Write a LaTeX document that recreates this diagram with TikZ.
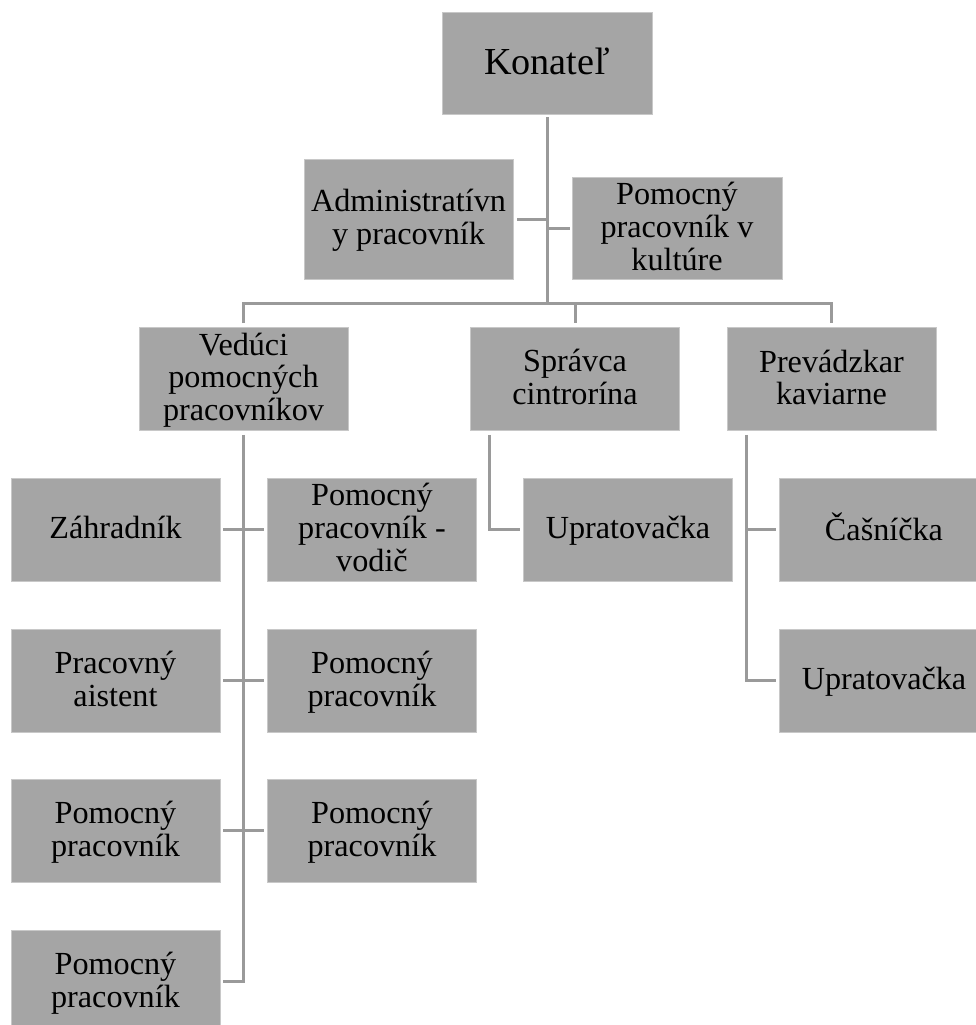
\documentclass[tikz,border=0pt]{standalone}
\usepackage{fontspec}
\setmainfont{Liberation Serif}
\definecolor{boxgray}{HTML}{A5A5A5}
\definecolor{linegray}{HTML}{9A9A9A}
\definecolor{edgegray}{HTML}{C8C8C8}
\newcommand{\kstrut}{\rule[-0.2em]{0pt}{0.98em}}
\tikzset{
  orgbox/.style={rectangle, fill=boxgray, draw=edgegray, line width=0.8pt,
    inner sep=0pt, align=center, text=black,
    font=\fontsize{32.2}{31.5}\selectfont},
  stdbox/.style={orgbox, minimum width=209pt, minimum height=103pt},
  conn/.style={draw=linegray, line width=3pt},
}
\begin{document}
\begin{tikzpicture}[x=1pt,y=-1pt]
\useasboundingbox (0,0) rectangle (976,1025);

% top
\node[orgbox, minimum width=210pt, minimum height=102pt,
      font=\fontsize{38.2}{40}\selectfont] (kon) at (547,63) {\kstrut Konateľ};
\node[orgbox, minimum width=209pt, minimum height=120pt] (adm) at (408.5,219) {\kstrut Administratívn\\\kstrut y pracovník};
\node[orgbox, minimum width=210pt, minimum height=102pt] (kul) at (677,228) {\kstrut Pomocný\\\kstrut pracovník v\\\kstrut kultúre};

% second level
\node[stdbox] (ved) at (243.5,379) {\kstrut Vedúci\\\kstrut pomocných\\\kstrut pracovníkov};
\node[stdbox] (spr) at (575,379) {\kstrut Správca\\\kstrut cintrorína};
\node[stdbox] (pre) at (831.5,379) {\kstrut Prevádzkar\\\kstrut kaviarne};

% Vedúci children
\node[stdbox] (l1) at (115.5,529.5) {\kstrut Záhradník};
\node[stdbox] (l2) at (115.5,680.5) {\kstrut Pracovný\\\kstrut aistent};
\node[stdbox] (l3) at (115.5,830.5) {\kstrut Pomocný\\\kstrut pracovník};
\node[stdbox] (l4) at (115.5,981.5) {\kstrut Pomocný\\\kstrut pracovník};
\node[stdbox] (r1) at (372,529.5) {\kstrut Pomocný\\\kstrut pracovník -\\\kstrut vodič};
\node[stdbox] (r2) at (372,680.5) {\kstrut Pomocný\\\kstrut pracovník};
\node[stdbox] (r3) at (372,830.5) {\kstrut Pomocný\\\kstrut pracovník};

% Správca child
\node[stdbox] (up1) at (628,529.5) {\kstrut Upratovačka};
% Prevádzkar children
\node[stdbox] (cas) at (884,529.5) {\kstrut Čašníčka};
\node[stdbox] (up2) at (884,680.5) {\kstrut Upratovačka};

% connectors
\coordinate (bus) at (547,303);
\draw[conn, shorten <=3pt] (kon.south) -- (kon.south |- bus);
\draw[conn, shorten >=4pt] (kon.south |- adm.east) -- (adm.east);
\draw[conn, shorten >=2pt] (kon.south |- kul.west) -- (kul.west);
\draw[conn, shorten <=4pt, shorten >=4pt] (ved.north) -- (ved.north |- bus) -- (pre.north |- bus) -- (pre.north);
\draw[conn, shorten >=4pt] (spr.north |- bus) -- (spr.north);

% Vedúci tree
\draw[conn, shorten <=4pt, shorten >=3pt] (ved.south) -- (ved.south |- l4.east) -- (l4.east);
\foreach \n in {l1,l2,l3}
  \draw[conn, shorten >=3pt] (ved.south |- \n.east) -- (\n.east);
\foreach \n in {r1,r2,r3}
  \draw[conn, shorten >=3pt] (ved.south |- \n.west) -- (\n.west);

% Správca tree
\coordinate (sprd) at ([xshift=19pt]spr.south west);
\draw[conn, shorten <=4pt, shorten >=3pt] (sprd) -- (sprd |- up1.west) -- (up1.west);

% Prevádzkar tree
\coordinate (pred) at ([xshift=20pt]pre.south west);
\draw[conn, shorten <=4pt, shorten >=3pt] (pred) -- (pred |- up2.west) -- (up2.west);
\draw[conn, shorten >=3pt] (pred |- cas.west) -- (cas.west);
\end{tikzpicture}
\end{document}
